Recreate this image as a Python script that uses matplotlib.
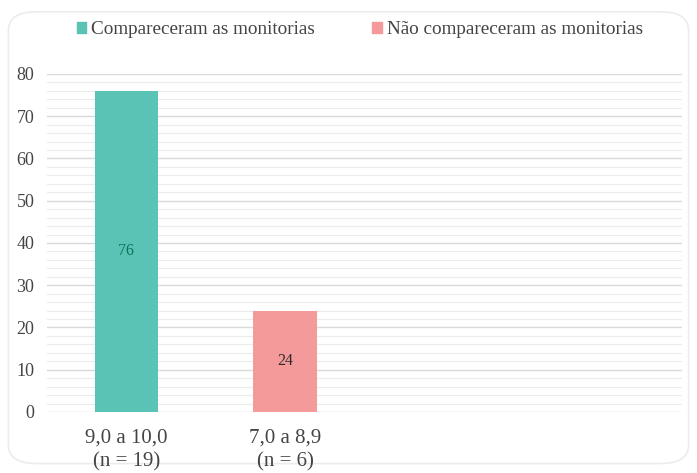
import matplotlib
matplotlib.use("Agg")
import matplotlib.pyplot as plt
from matplotlib.patches import FancyBboxPatch, Patch
from matplotlib.ticker import MultipleLocator

categories = ["9,0 a 10,0\n(n = 19)", "7,0 a 8,9\n(n = 6)", "", ""]
series_names = ["Compareceram as monitorias", "Não compareceram as monitorias"]
values = [76, 24]
colors = ["#5bc2b6", "#f59a9a"]
label_colors = ["#11735a", "#2b2b2b"]

plt.rcParams["font.family"] = ["Liberation Serif", "DejaVu Serif"]

fig = plt.figure(figsize=(6.97, 4.73), dpi=100)
ax = fig.add_axes([0.0674, 0.129, 0.911, 0.7146])

# rounded chart-area frame
frame = FancyBboxPatch((0.012, 0.02), 0.976, 0.955, boxstyle="round,pad=0,rounding_size=0.04",
                       transform=fig.transFigure, facecolor="white", edgecolor="#ececec",
                       linewidth=1.2, zorder=-1)
fig.patches.append(frame)

x = list(range(len(categories)))
for i, (v, c, lc) in enumerate(zip(values, colors, label_colors)):
    ax.bar(x[i], v, width=0.4, color=c, zorder=3)
    ax.text(x[i], v / 2, str(v), ha="center", va="center", fontsize=11.5, color=lc, zorder=4)

ax.set_xlim(-0.5, len(categories) - 0.5)
ax.set_ylim(0, 80)
ax.yaxis.set_major_locator(MultipleLocator(10))
ax.yaxis.set_minor_locator(MultipleLocator(2))
ax.grid(which="major", axis="y", color="#d9d9d9", linewidth=1.0, zorder=0)
ax.grid(which="minor", axis="y", color="#ececec", linewidth=0.8, zorder=0)
ax.set_xticks(x)
ax.set_xticklabels(categories, fontsize=15, color="#444444", linespacing=1.35)
ax.tick_params(axis="y", which="both", labelsize=13, colors="#444444", length=0, pad=9)
ax.tick_params(axis="x", which="both", length=0, pad=12)
for s in ax.spines.values():
    s.set_visible(False)
ax.set_facecolor("none")

handles = [Patch(color=c, label=n) for c, n in zip(colors, series_names)]
fig.legend(handles=handles, loc="center", bbox_to_anchor=(0.516, 0.937), ncol=2, frameon=False,
           fontsize=13.8, handlelength=0.5, handleheight=0.5, handletextpad=0.25, columnspacing=3.0,
           labelcolor="#444444")

fig.savefig("out.png", dpi=100, facecolor="white")
